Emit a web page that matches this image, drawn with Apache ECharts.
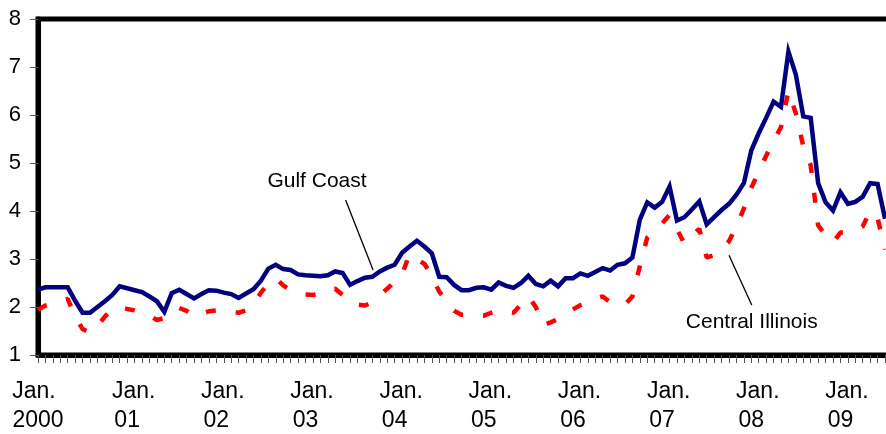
<!DOCTYPE html>
<html>
<head>
<meta charset="utf-8">
<script src="https://cdn.jsdelivr.net/npm/echarts@6/dist/echarts.min.js"></script>
<style>
  html, body { margin: 0; padding: 0; background: #fff; }
  #chart { width: 886px; height: 434px; }
</style>
</head>
<body>
<div id="chart"></div>
<script>
// Monthly prices, January 2000 onward (index 0 = Jan. 2000)
const gulfCoast = [
  2.36, 2.41, 2.41, 2.41, 2.41, 2.13, 1.88, 1.88, 2.00, 2.12,
  2.25, 2.43, 2.39, 2.35, 2.31, 2.22, 2.12, 1.90, 2.29, 2.36,
  2.27, 2.18, 2.27, 2.35, 2.34, 2.30, 2.27, 2.19, 2.28, 2.37,
  2.55, 2.80, 2.88, 2.79, 2.77, 2.68, 2.66, 2.65, 2.64, 2.66,
  2.74, 2.71, 2.46, 2.54, 2.61, 2.63, 2.74, 2.82, 2.88, 3.13,
  3.26, 3.38, 3.26, 3.12, 2.63, 2.62, 2.46, 2.35, 2.35, 2.40,
  2.41, 2.36, 2.51, 2.44, 2.40, 2.50, 2.65, 2.48, 2.43, 2.55,
  2.43, 2.60, 2.60, 2.70, 2.65, 2.73, 2.81, 2.76, 2.88, 2.91,
  3.03, 3.82, 4.18, 4.07, 4.19, 4.51, 3.80, 3.87, 4.03, 4.20,
  3.72, 3.87, 4.02, 4.15, 4.34, 4.58, 5.26, 5.62, 5.94, 6.28,
  6.17, 7.32, 6.84, 5.97, 5.94, 4.58, 4.18, 4.01, 4.39, 4.15,
  4.19, 4.30, 4.58, 4.56, 3.84
];
const centralIllinois = [
  1.94, 2.03, 2.07, 2.12, 2.17, 1.80, 1.54, 1.46, 1.60, 1.80,
  1.96, 2.00, 1.96, 1.93, 1.88, 1.82, 1.73, 1.77, 1.90, 1.98,
  1.92, 1.80, 1.86, 1.91, 1.93, 1.90, 1.90, 1.88, 1.93, 2.05,
  2.30, 2.48, 2.60, 2.45, 2.35, 2.29, 2.26, 2.25, 2.28, 2.36,
  2.38, 2.25, 2.10, 2.05, 2.03, 2.10, 2.25, 2.38, 2.52, 2.68,
  3.10, 3.00, 2.90, 2.65, 2.32, 2.12, 1.92, 1.84, 1.84, 1.82,
  1.82, 1.88, 1.93, 1.90, 1.88, 2.05, 2.22, 2.00, 1.62, 1.68,
  1.75, 1.85, 1.95, 2.04, 2.10, 2.17, 2.22, 2.10, 2.08, 2.05,
  2.22, 2.85, 3.45, 3.60, 3.74, 3.92, 3.62, 3.32, 3.48, 3.63,
  3.03, 3.08, 3.20, 3.37, 3.68, 4.05, 4.48, 4.82, 5.15, 5.45,
  5.75, 6.50, 6.03, 5.35, 4.95, 3.70, 3.50, 3.35, 3.55, 3.55,
  3.60, 3.68, 4.00, 3.85, 3.20
];
// Year part of each January tick label
const yearLabels = ['2000', '01', '02', '03', '04', '05', '06', '07', '08', '09'];
const yTicks = [1, 8, 1]; // min, max, step

const FONT = '"Liberation Sans", Arial, sans-serif';
const toPairs = arr => arr.map((v, i) => [i, v]);

const chart = echarts.init(document.getElementById('chart'), null, { renderer: 'canvas' });

chart.setOption({
  animation: false,
  backgroundColor: '#ffffff',
  grid: {
    left: 38, top: 19, height: 336, width: 891.6,
    outerBoundsMode: 'none',
    containLabel: false,
    show: true, borderColor: '#000', borderWidth: 5, backgroundColor: 'transparent'
  },
  xAxis: {
    type: 'value', min: 0, max: 120, interval: 12,
    axisLine: { show: true, lineStyle: { color: '#000', width: 5 } },
    axisTick: { show: true, length: 8, lineStyle: { color: '#555', width: 1 } },
    minorTick: { show: true, splitNumber: 12, length: 8, lineStyle: { color: '#555', width: 1 } },
    splitLine: { show: false },
    minorSplitLine: { show: false },
    axisLabel: {
      margin: 22,
      showMaxLabel: false,
      formatter: v => {
        const k = Math.round(v / 12);
        if (k >= yearLabels.length) return '';
        return k === 0 ? '{j0|Jan.}\n{y|' + yearLabels[k] + '}'
                       : '{j|Jan.}\n{y|' + yearLabels[k] + '}';
      },
      rich: {
        j:  { fontSize: 23, fontFamily: FONT, color: '#000', lineHeight: 29, padding: [0, 0, 0, 13] },
        j0: { fontSize: 23, fontFamily: FONT, color: '#000', lineHeight: 29, padding: [0, 8, 0, 0] },
        y:  { fontSize: 23, fontFamily: FONT, color: '#000', lineHeight: 29 }
      }
    }
  },
  yAxis: {
    type: 'value', min: yTicks[0], max: yTicks[1], interval: yTicks[2],
    axisLine: { show: true, lineStyle: { color: '#000', width: 5 } },
    axisTick: { show: true, length: 8, lineStyle: { color: '#555', width: 1 } },
    splitLine: { show: false },
    axisLabel: { margin: 17, fontSize: 22, fontFamily: FONT, color: '#000' }
  },
  series: [
    {
      name: 'Gulf Coast',
      type: 'line',
      data: toPairs(gulfCoast),
      showSymbol: false,
      lineStyle: { color: '#000080', width: 4.5, join: 'miter' },
      z: 2,
      markLine: {
        silent: true, symbol: ['none', 'none'], animation: false,
        label: { show: false },
        lineStyle: { color: '#000', width: 1.3, type: 'solid' },
        data: [
          [{ coord: [41.4, 4.23] }, { coord: [45.1, 2.77] }],
          [{ coord: [93.0, 3.08] }, { coord: [96.06, 2.04] }]
        ]
      },
      markPoint: {
        silent: true, symbol: 'circle', symbolSize: 0, animation: false,
        label: { show: true, position: 'inside', color: '#000', fontSize: 21, fontFamily: FONT },
        data: [
          { coord: [37.55, 4.625], label: { formatter: 'Gulf Coast' } },
          { coord: [96.06, 1.69], label: { formatter: 'Central Illinois' } }
        ]
      }
    },
    {
      name: 'Central Illinois',
      type: 'line',
      data: toPairs(centralIllinois),
      showSymbol: false,
      lineStyle: { color: '#ff0000', width: 4.5, type: [10, 20], cap: 'butt' },
      z: 3
    }
  ]
});
</script>
</body>
</html>
